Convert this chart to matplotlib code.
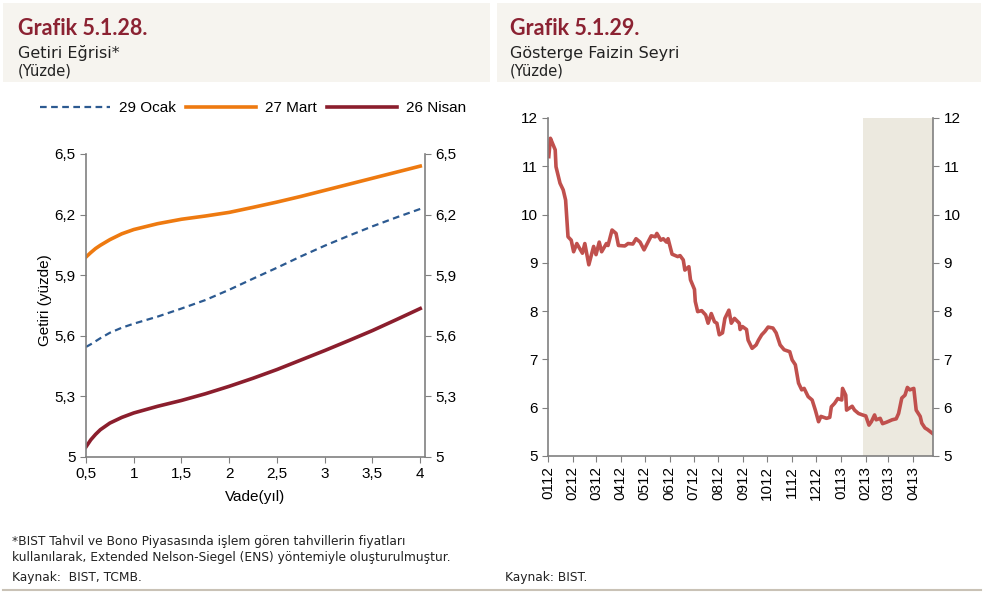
import matplotlib
import matplotlib.pyplot as plt
import pandas as pd
from matplotlib.patches import Rectangle
from matplotlib.lines import Line2D

matplotlib.use("Agg")

# --- data: yield curve (left) ---
vade = [0.5, 0.55, 0.6, 0.65, 0.75, 0.875, 1, 1.25, 1.5, 1.75, 2, 2.25, 2.5, 2.75, 3, 3.25, 3.5, 3.75, 4]
ocak_29 = [5.545, 5.558, 5.573, 5.588, 5.615, 5.64, 5.66, 5.695, 5.735, 5.777, 5.828, 5.883,
           5.937, 5.993, 6.046, 6.095, 6.142, 6.186, 6.228]
mart_27 = [5.99, 6.012, 6.032, 6.048, 6.076, 6.105, 6.126, 6.155, 6.177, 6.193, 6.211, 6.236,
           6.262, 6.29, 6.32, 6.35, 6.38, 6.41, 6.44]
nisan_26 = [5.05, 5.085, 5.112, 5.135, 5.168, 5.196, 5.218, 5.251, 5.28, 5.313, 5.35, 5.39,
            5.433, 5.48, 5.527, 5.576, 5.626, 5.68, 5.735]
left_yticks = [5, 5.3, 5.6, 5.9, 6.2, 6.5]
left_ylabels = ["5", "5,3", "5,6", "5,9", "6,2", "6,5"]
left_xticks = [0.5, 1, 1.5, 2, 2.5, 3, 3.5, 4]
left_xlabels = ["0,5", "1", "1,5", "2", "2,5", "3", "3,5", "4"]

# --- data: benchmark rate (right) ---
tarih = [
    "2012-01-02", "2012-01-04", "2012-01-06", "2012-01-10", "2012-01-11", "2012-01-16",
    "2012-01-20", "2012-01-23", "2012-01-26", "2012-01-30", "2012-02-02", "2012-02-06",
    "2012-02-13", "2012-02-16", "2012-02-21", "2012-02-27", "2012-03-01", "2012-03-05",
    "2012-03-08", "2012-03-14", "2012-03-16", "2012-03-21", "2012-03-26", "2012-03-29",
    "2012-04-06", "2012-04-10", "2012-04-16", "2012-04-20", "2012-04-25", "2012-04-30",
    "2012-05-04", "2012-05-09", "2012-05-14", "2012-05-16", "2012-05-21", "2012-05-24",
    "2012-05-28", "2012-05-30", "2012-06-04", "2012-06-11", "2012-06-14", "2012-06-18",
    "2012-06-20", "2012-06-25", "2012-06-27", "2012-07-02", "2012-07-03", "2012-07-06",
    "2012-07-11", "2012-07-16", "2012-07-19", "2012-07-23", "2012-07-27", "2012-07-30",
    "2012-08-02", "2012-08-06", "2012-08-09", "2012-08-14", "2012-08-17", "2012-08-21",
    "2012-08-27", "2012-08-28", "2012-08-31", "2012-09-05", "2012-09-07", "2012-09-12",
    "2012-09-17", "2012-09-20", "2012-09-24", "2012-09-28", "2012-10-02", "2012-10-08",
    "2012-10-12", "2012-10-17", "2012-10-22", "2012-10-29", "2012-11-01", "2012-11-05",
    "2012-11-09", "2012-11-13", "2012-11-16", "2012-11-21", "2012-11-26", "2012-11-30",
    "2012-12-04", "2012-12-07", "2012-12-14", "2012-12-18", "2012-12-20", "2012-12-24",
    "2012-12-28", "2013-01-02", "2013-01-03", "2013-01-07", "2013-01-08", "2013-01-15",
    "2013-01-18", "2013-01-23", "2013-01-28", "2013-02-01", "2013-02-05", "2013-02-08",
    "2013-02-12", "2013-02-14", "2013-02-19", "2013-02-22", "2013-02-27", "2013-03-06",
    "2013-03-11", "2013-03-14", "2013-03-18", "2013-03-22", "2013-03-25", "2013-03-28",
    "2013-04-02", "2013-04-05", "2013-04-10", "2013-04-12", "2013-04-16", "2013-04-19",
    "2013-04-26",
]
faiz = [
    11.20, 11.58, 11.50, 11.34, 10.99, 10.65,
    10.51, 10.30, 9.54, 9.47, 9.23, 9.40,
    9.20, 9.40, 8.96, 9.34, 9.17, 9.43,
    9.23, 9.40, 9.36, 9.68, 9.61, 9.36,
    9.35, 9.40, 9.39, 9.50, 9.43, 9.27,
    9.40, 9.56, 9.54, 9.61, 9.47, 9.50,
    9.43, 9.50, 9.18, 9.13, 9.15, 9.06,
    8.85, 8.92, 8.65, 8.45, 8.20, 7.99,
    8.01, 7.92, 7.75, 7.95, 7.78, 7.75,
    7.51, 7.55, 7.85, 8.02, 7.75, 7.85,
    7.75, 7.62, 7.68, 7.62, 7.40, 7.23,
    7.30, 7.40, 7.51, 7.58, 7.67, 7.65,
    7.55, 7.30, 7.20, 7.16, 6.99, 6.89,
    6.51, 6.37, 6.40, 6.23, 6.16, 5.95,
    5.71, 5.82, 5.78, 5.80, 6.02, 6.09,
    6.19, 6.16, 6.40, 6.26, 5.95, 6.03,
    5.95, 5.88, 5.85, 5.83, 5.64, 5.71,
    5.85, 5.75, 5.78, 5.67, 5.70, 5.75,
    5.77, 5.88, 6.20, 6.26, 6.42, 6.37,
    6.40, 5.95, 5.82, 5.68, 5.58, 5.55,
    5.46,
]
golge_bas = "2013-01-29"
golge_son = "2013-04-26"
ay_etiketleri = ["0112", "0212", "0312", "0412", "0512", "0612", "0712", "0812",
                 "0912", "1012", "1112", "1212", "0113", "0213", "0313", "0413"]
right_yticks = [5, 6, 7, 8, 9, 10, 11, 12]

tarih = pd.to_datetime(tarih)

# colours
c_title = "#8B2232"
c_header = "#F6F4EF"
c_blue = "#2C5A91"
c_orange = "#EE7A10"
c_dred = "#8B1E2D"
c_red = "#C0504D"
c_shade = "#ECE9DF"
c_spine = "#808080"
c_text = "#222222"

plt.rcParams["font.family"] = ["Liberation Sans", "DejaVu Sans"]
title_font = ["Lato", "DejaVu Sans"]
txt_font = ["DejaVu Sans"]

fig = plt.figure(figsize=(9.84, 5.93), dpi=100)
W, H = 984, 593

def fx(x):
    return x / W

def fy(y):
    return 1 - y / H

# header boxes
fig.patches.append(Rectangle((fx(3), fy(82)), fx(487), 79 / H, transform=fig.transFigure,
                             facecolor=c_header, edgecolor="none", zorder=0))
fig.patches.append(Rectangle((fx(497), fy(82)), fx(484), 79 / H, transform=fig.transFigure,
                             facecolor=c_header, edgecolor="none", zorder=0))
# bottom rule
fig.add_artist(Line2D([fx(3), fx(981)], [fy(590), fy(590)], transform=fig.transFigure,
                      color="#C9C2B6", lw=1.5))

for x0, num, sub in [(18, "Grafik 5.1.28.", "Getiri Eğrisi*"),
                     (510, "Grafik 5.1.29.", "Gösterge Faizin Seyri")]:
    fig.text(fx(x0), fy(35), num, fontsize=15.5, fontweight="bold", color=c_title,
             family=title_font, va="baseline")
    fig.text(fx(x0), fy(58), sub, fontsize=11.5, color=c_text, family=txt_font, va="baseline")
    fig.text(fx(x0), fy(76), "(Yüzde)", fontsize=10.5, color=c_text, family=txt_font, va="baseline")

# --- left chart ---
ax1 = fig.add_axes([fx(86), fy(457), fx(425 - 86), (457 - 154) / H])
ax1.plot(vade, ocak_29, color=c_blue, lw=1.6, ls=(0, (3, 2)), label="29 Ocak")
ax1.plot(vade, mart_27, color=c_orange, lw=2.6, label="27 Mart", solid_joinstyle="round")
ax1.plot(vade, nisan_26, color=c_dred, lw=2.6, label="26 Nisan", solid_joinstyle="round")
ax1.set_xlim(0.5, 4.05)
ax1.set_ylim(5, 6.5)
ax1.set_xticks(left_xticks)
ax1.set_xticklabels(left_xlabels)
ax1.set_yticks(left_yticks)
ax1.set_yticklabels(left_ylabels)
ax1.tick_params(axis="both", labelsize=11, direction="out", length=4, color=c_spine,
                right=True, labelright=True)
ax1.spines["top"].set_visible(False)
for s in ["left", "right", "bottom"]:
    ax1.spines[s].set_color(c_spine)
    ax1.spines[s].set_linewidth(1.2)
ax1.set_xlabel("Vade(yıl)", fontsize=11, labelpad=6)
fig.text(fx(45), fy(300), "Getiri (yüzde)", rotation=90, fontsize=11, ha="center", va="center")

fig.legend(*ax1.get_legend_handles_labels(), loc="center", bbox_to_anchor=(fx(253), fy(108)),
           ncol=3, frameon=False, fontsize=11, handlelength=4.6, columnspacing=0.65,
           handletextpad=0.6, borderaxespad=0)

# --- right chart ---
ax2 = fig.add_axes([fx(548), fy(456), fx(933 - 548), (456 - 118) / H])
ax2.axvspan(pd.Timestamp(golge_bas), pd.Timestamp(golge_son), color=c_shade, lw=0, zorder=0)
ax2.plot(tarih, faiz, color=c_red, lw=2.6, zorder=2)
ax2.set_xlim(pd.Timestamp("2012-01-01"), pd.Timestamp(golge_son))
ax2.set_ylim(5, 12)
ay_basi = pd.date_range("2012-01-01", periods=len(ay_etiketleri), freq="MS")
ax2.set_xticks(ay_basi)
ax2.set_xticklabels(ay_etiketleri, rotation=90)
ax2.set_yticks(right_yticks)
ax2.tick_params(axis="both", labelsize=11, direction="out", length=4, color=c_spine,
                right=True, labelright=True)
ax2.spines["top"].set_visible(False)
for s in ["left", "right", "bottom"]:
    ax2.spines[s].set_color(c_spine)
    ax2.spines[s].set_linewidth(1.2)

# footnotes
fs = 8.8
fig.text(fx(12), fy(541), "*BIST Tahvil ve Bono Piyasasında işlem gören tahvillerin fiyatları",
         fontsize=fs, family=txt_font, va="center", color=c_text)
fig.text(fx(12), fy(557), "kullanılarak, Extended Nelson-Siegel (ENS) yöntemiyle oluşturulmuştur.",
         fontsize=fs, family=txt_font, va="center", color=c_text)
fig.text(fx(12), fy(577), "Kaynak:  BIST, TCMB.", fontsize=fs, family=txt_font, va="center",
         color=c_text)
fig.text(fx(505), fy(578), "Kaynak: BIST.", fontsize=fs, family=txt_font, va="center",
         color=c_text)

fig.savefig("out.png", dpi=100)
plt.close(fig)
